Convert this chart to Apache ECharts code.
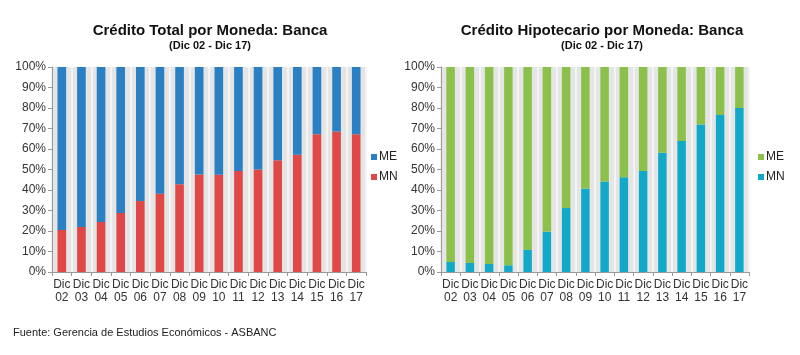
<!DOCTYPE html>
<html><head><meta charset="utf-8">
<script src="https://cdn.jsdelivr.net/npm/echarts@6/dist/echarts.min.js"></script>
<style>html,body{margin:0;padding:0;background:#fff}#c{width:800px;height:355px}</style>
</head><body><div id="c"></div>
<script>
const categories = ['Dic\n02','Dic\n03','Dic\n04','Dic\n05','Dic\n06','Dic\n07','Dic\n08','Dic\n09','Dic\n10','Dic\n11','Dic\n12','Dic\n13','Dic\n14','Dic\n15','Dic\n16','Dic\n17'];
const totalMN = [20.5,22,24.4,28.8,34.6,38.2,42.8,47.6,47.5,49.3,50,54.5,57.2,67.2,68.5,67.2];
const totalME = totalMN.map(v => +(100 - v).toFixed(1));
const hipoMN = [4.9,4.4,3.9,3.3,10.9,19.7,31.2,40.7,44.2,46.2,49.3,58.2,63.9,72,76.6,80];
const hipoME = hipoMN.map(v => +(100 - v).toFixed(1));

const font = 'Liberation Sans, Arial, sans-serif';
const chart = echarts.init(document.getElementById('c'));
function xAx(gi){return {type:'category',gridIndex:gi,data:categories,
  axisLine:{lineStyle:{color:'#999'}},axisTick:{show:true,length:4,lineStyle:{color:'#999'}},
  axisLabel:{color:'#333',fontSize:12,fontFamily:font,lineHeight:13,margin:6,interval:0},
  splitLine:{show:true,interval:0,lineStyle:{color:'#f4f4f4',width:2}}};}
function yAx(gi){return {type:'value',gridIndex:gi,min:0,max:100,interval:10,
  axisLine:{show:true,lineStyle:{color:'#999'}},axisTick:{show:true,length:4,lineStyle:{color:'#999'}},
  axisLabel:{color:'#333',fontSize:12,fontFamily:font,formatter:v=>v+'%',margin:6},
  splitLine:{show:false}};}
chart.setOption({
  animation:false,
  title:[
    {text:'Crédito Total por Moneda: Banca',subtext:'(Dic 02 - Dic 17)',left:205,top:18,textAlign:'center',itemGap:2,
     textStyle:{fontSize:15,fontWeight:'bold',color:'#111',fontFamily:font},
     subtextStyle:{fontSize:11,fontWeight:'bold',color:'#111',fontFamily:font}},
    {text:'Crédito Hipotecario por Moneda: Banca',subtext:'(Dic 02 - Dic 17)',left:597,top:18,textAlign:'center',itemGap:2,
     textStyle:{fontSize:15,fontWeight:'bold',color:'#111',fontFamily:font},
     subtextStyle:{fontSize:11,fontWeight:'bold',color:'#111',fontFamily:font}},
    {text:'Fuente: Gerencia de Estudios Económicos - ASBANC',left:8,top:322,
     textStyle:{fontSize:11,fontWeight:'normal',color:'#222',fontFamily:font}}
  ],
  legend:[
    {orient:'vertical',left:366,top:146,itemWidth:6,itemHeight:6,itemGap:8,icon:'rect',
     textStyle:{fontSize:12,color:'#222',fontFamily:font,padding:[0,0,0,-3]},data:['ME','MN']},
    {orient:'vertical',left:753,top:146,itemWidth:6,itemHeight:6,itemGap:8,icon:'rect',
     textStyle:{fontSize:12,color:'#222',fontFamily:font,padding:[0,0,0,-3]},data:['ME ','MN ']}
  ],
  grid:[
    {left:52,top:67,width:314,height:205,show:true,backgroundColor:'#e5e5e5',borderWidth:0},
    {left:441,top:67,width:308,height:205,show:true,backgroundColor:'#e5e5e5',borderWidth:0}
  ],
  xAxis:[xAx(0),xAx(1)],
  yAxis:[yAx(0),yAx(1)],
  series:[
    {name:'MN',type:'bar',stack:'a',xAxisIndex:0,yAxisIndex:0,data:totalMN,barWidth:'44%',itemStyle:{color:'#e04848'}},
    {name:'ME',type:'bar',stack:'a',xAxisIndex:0,yAxisIndex:0,data:totalME,barWidth:'44%',itemStyle:{color:'#2b7fc3'}},
    {name:'MN ',type:'bar',stack:'b',xAxisIndex:1,yAxisIndex:1,data:hipoMN,barWidth:'44%',itemStyle:{color:'#12a9c9'}},
    {name:'ME ',type:'bar',stack:'b',xAxisIndex:1,yAxisIndex:1,data:hipoME,barWidth:'44%',itemStyle:{color:'#8bc04a'}}
  ]
});
</script></body></html>
